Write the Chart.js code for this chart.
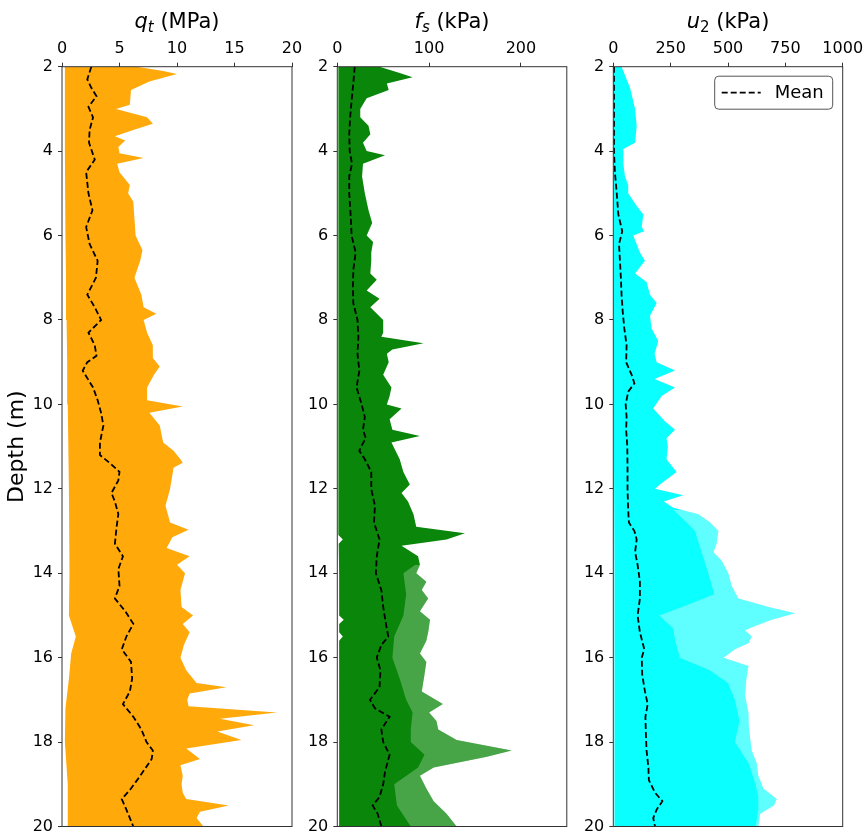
<!DOCTYPE html>
<html><head><meta charset="utf-8">
<script src="https://cdn.jsdelivr.net/npm/chart.js@4"></script>
<style>
html,body{margin:0;padding:0;background:#fff;}
#wrap{position:relative;width:866px;height:835px;overflow:hidden;background:#fff;}
canvas{position:absolute;top:0;}
</style></head><body>
<div id="wrap">
<canvas id="c1" width="310" height="835" style="left:0px"></canvas>
<canvas id="c2" width="285" height="835" style="left:300px"></canvas>
<canvas id="c3" width="291" height="835" style="left:575px"></canvas>
</div>
<script>
// ---------- tick labels ----------
const depthTicks = [2,4,6,8,10,12,14,16,18,20];
const qtTicks = [0,5,10,15,20];
const fsTicks = [0,100,200];
const u2Ticks = [0,250,500,750,1000];

// ---------- q_t (MPa) ----------
const qtMaxDepth = [2.0,2.1,2.17,2.35,2.55,2.9,3.0,3.2,3.35,3.5,3.65,3.75,3.9,4.05,4.16,4.3,4.5,4.8,5.0,5.2,5.6,6.0,6.35,6.6,7.0,7.4,7.7,7.85,8.0,8.3,8.6,8.9,9.1,9.3,9.6,9.9,10.05,10.2,10.5,10.9,11.1,11.3,11.38,11.5,12.0,12.4,12.8,12.97,13.15,13.4,13.6,13.8,14.0,14.4,14.8,15.0,15.2,15.4,15.7,16.0,16.3,16.6,16.7,16.85,17.0,17.15,17.3,17.45,17.6,17.75,17.95,18.15,18.4,18.55,18.8,19.0,19.2,19.35,19.5,19.65,19.8,20.0];
const qtMax      = [6.5,8.8,10.0,7.6,6.0,5.9,4.7,7.4,7.9,6.2,4.6,5.5,4.9,5.0,7.1,4.8,5.0,5.9,5.75,6.2,6.3,6.4,7.0,6.8,6.3,6.9,7.1,8.2,7.1,7.4,7.9,7.9,8.5,8.0,7.4,7.4,10.5,7.6,8.5,8.8,9.7,10.3,10.5,9.7,9.4,9.0,9.4,11.0,9.6,9.1,11.1,10.0,10.7,10.3,10.4,11.4,10.5,11.1,10.6,10.3,10.8,11.7,14.3,11.1,10.9,11.0,18.7,13.75,16.7,13.5,15.6,10.8,12.0,10.3,10.5,10.4,10.5,10.8,14.5,12.0,11.7,12.3];
const qtMinDepth = [2,4,6,7,8,9,10,12,14,15,15.5,15.9,16.5,17.2,18,19,20];
const qtMin      = [0.25,0.25,0.3,0.35,0.4,0.45,0.5,0.6,0.65,0.6,1.2,0.8,0.6,0.3,0.25,0.5,0.5];
const qtMeanDepth = [2.0,2.3,2.5,2.7,2.95,3.2,3.5,3.8,4.2,4.5,5.0,5.4,5.8,6.2,6.6,7.0,7.4,7.7,8.0,8.3,8.6,8.85,9.0,9.2,9.6,9.9,10.2,10.5,10.9,11.2,11.4,11.6,11.8,12.1,12.3,12.6,12.9,13.3,13.6,13.9,14.3,14.6,14.9,15.2,15.5,15.8,16.1,16.5,16.8,17.1,17.4,17.7,18.0,18.2,18.4,18.8,19.1,19.35,19.6,20.0];
const qtMean      = [2.55,2.2,2.55,3.0,2.3,2.7,2.4,2.35,2.85,2.1,2.3,2.65,2.1,2.4,3.1,2.95,2.2,2.85,3.4,2.3,2.85,3.0,2.2,1.8,2.7,3.1,3.4,3.6,3.3,3.3,4.2,5.0,4.9,4.3,4.6,4.9,4.75,4.6,5.3,4.9,5.0,4.6,5.5,6.2,5.6,5.2,6.0,6.1,5.9,5.3,6.2,6.9,7.35,7.9,7.8,6.8,6.0,5.2,5.6,6.2];

// ---------- f_s (kPa) ----------
const fsMaxDepth = [2.0,2.15,2.25,2.4,2.55,2.75,3.0,3.2,3.4,3.6,3.8,4.0,4.1,4.3,4.6,5.0,5.4,5.7,6.0,6.15,6.4,6.6,6.9,7.05,7.3,7.5,7.7,8.0,8.3,8.4,8.55,8.7,8.8,9.0,9.3,9.6,9.8,10.0,10.1,10.35,10.6,10.75,10.9,11.3,11.6,11.9,12.1,12.3,12.6,12.9,13.05,13.2,13.35,13.6,13.8,14.0,14.2,14.4,14.6,14.9,15.1,15.4,15.6,15.9,16.1,16.4,16.8,17.1,17.3,17.5,17.7,17.95,18.2,18.35,18.6,18.8,19.1,19.4,19.7,20.0];
const fsMax      = [46,68,82,54,56,32,25,25,34,36,28,32,52,28,27,30,34,38,32,39,37,37,36,43,32,46,36,50,50,48,94,60,54,56,50,59,57,54,70,57,60,90,59,68,72,79,70,77,83,86,139,119,70,88,90,86,97,92,99,90,101,99,97,90,97,95,92,115,100,108,110,130,190,163,105,90,97,105,119,130];
const fsMinDepth = [2,4,6,8,10,12,13.1,13.2,13.3,14,15.0,15.1,15.2,15.4,15.5,15.6,16,18,20];
const fsMin      = [1,1,1,1,1.5,1.5,1.5,6,1.5,2,2,7,2,2,6,2,2,2,2];
const fsHatchDepth = [13.8,14.0,14.5,15.0,15.5,16.0,16.5,17.0,17.3,17.7,18.0,18.3,18.6,19.0,19.5,20.0];
const fsHatch      = [85,72,75,72,62,60,68,75,82,80,80,95,88,62,65,80];
const fsMeanDepth = [2.0,2.4,2.8,3.2,3.6,4.0,4.3,4.6,5.0,5.5,6.0,6.4,6.8,7.2,7.6,8.0,8.4,8.8,9.2,9.6,10.0,10.3,10.6,10.8,11.0,11.1,11.3,11.6,12.0,12.4,12.8,13.2,13.6,14.0,14.4,14.8,15.2,15.5,15.7,16.0,16.3,16.7,17.0,17.2,17.4,17.7,18.0,18.3,18.7,19.0,19.3,19.5,19.7,20.0];
const fsMean      = [19,17.4,15.6,14,13,13.5,16,13,13,14.5,15.6,20,17.5,17,17.4,22,23,22,24,21,26.5,30,28,31,26,24,30,37,37,41,40,46,43,42,48,50,53,55.5,48,43,47,46,35.6,41,57,48,50,57,52,50,46,38.5,44,48];

// ---------- u_2 (kPa) ----------
const u2MaxDepth = [2.0,2.5,3.0,3.4,3.8,3.95,4.3,4.6,4.8,5.0,5.3,5.5,5.8,5.9,6.0,6.4,6.6,6.9,7.1,7.4,7.6,7.9,8.2,8.5,8.8,9.0,9.2,9.4,9.6,9.8,10.1,10.4,10.6,10.8,11.0,11.3,11.6,11.9,12.0,12.15,12.3,12.45,12.6,12.8,13.0,13.3,13.5,13.7,14.0,14.3,14.6,14.8,14.95,15.1,15.25,15.35,15.5,15.65,15.8,16.0,16.2,16.5,16.9,17.3,17.6,17.9,18.2,18.5,18.8,19.1,19.35,19.5,19.7,20.0];
const u2Max      = [36,73,95,102,95,44,44,51,65,65,102,131,124,135,87,116,138,95,145,160,189,160,167,196,180,189,269,180,269,211,174,225,269,232,238,232,276,203,182,305,220,262,371,422,458,450,436,472,501,516,545,676,792,690,618,574,603,590,530,480,589,580,574,589,590,596,603,625,632,654,712,700,640,632];
const u2MinDepth = [2,6,10,14,18,20];
const u2Min      = [0,1,2,4,6,7];
const u2HatchDepth = [12.5,12.8,13.0,13.5,14.0,14.5,14.8,15.0,15.3,15.6,16.0,16.3,16.6,17.0,17.5,18.0,18.5,19.0,19.3,19.6,20.0];
const u2Hatch      = [262,320,356,385,414,440,300,200,260,270,290,420,500,530,550,530,590,620,632,632,620];
const u2MeanDepth = [2.0,3.0,4.0,4.5,5.0,5.5,5.9,6.2,6.6,7.0,7.4,7.8,8.2,8.6,9.0,9.3,9.5,9.7,10.0,10.3,10.6,11.0,11.5,12.0,12.5,12.8,13.0,13.2,13.5,13.8,14.2,14.6,15.0,15.4,15.8,16.0,16.4,16.8,17.1,17.4,17.8,18.2,18.6,18.9,19.2,19.4,19.6,19.8,20.0];
const u2Mean      = [3,3,3,7,15,22,39,25,29,33,36,41,48,58,56,80,92,65,54,58,56,61,62,62,65,68,92,102,95,106,116,116,106,116,135,124,126,138,150,140,142,145,153,155,182,214,189,174,182];

const legendLabel = 'Mean';
const yTitle = 'Depth (m)';

Chart.defaults.font.family = "'DejaVu Sans', sans-serif";
Chart.defaults.color = '#000';

const FONT = "'DejaVu Sans', sans-serif";
const pts = (d, v) => d.map((y, i) => ({x: v[i], y: y}));

const decor = {
  id: 'decor',
  afterDraw(chart, args, opts) {
    const ctx = chart.ctx, a = chart.chartArea;
    ctx.save();
    // frame
    ctx.strokeStyle = '#333';
    ctx.lineWidth = 1;
    ctx.strokeRect(a.left, a.top, a.right - a.left, a.bottom - a.top);
    // title with subscript
    const parts = opts.title;
    const big = 21, small = 15;
    let total = 0;
    const fontOf = p => (p.it ? 'italic ' : '') + (p.sub ? small : big) + 'px ' + FONT;
    parts.forEach(p => { ctx.font = fontOf(p); total += ctx.measureText(p.t).width; });
    let x = (a.left + a.right) / 2 - total / 2;
    const base = 28;
    ctx.fillStyle = '#000';
    ctx.textBaseline = 'alphabetic';
    ctx.textAlign = 'left';
    parts.forEach(p => {
      ctx.font = fontOf(p);
      ctx.fillText(p.t, x, base + (p.sub ? 4 : 0));
      x += ctx.measureText(p.t).width;
    });
    // legend
    if (opts.legend) {
      const w = 118, h = 33;
      const lx = a.right - 10 - w, ly = a.top + 9.5;
      ctx.beginPath();
      ctx.roundRect(lx, ly, w, h, 4);
      ctx.fillStyle = 'rgba(255,255,255,0.9)';
      ctx.fill();
      ctx.strokeStyle = '#555';
      ctx.lineWidth = 1;
      ctx.stroke();
      ctx.beginPath();
      ctx.setLineDash([6, 3]);
      ctx.strokeStyle = '#000';
      ctx.lineWidth = 1.8;
      ctx.moveTo(lx + 7, ly + h / 2);
      ctx.lineTo(lx + 46, ly + h / 2);
      ctx.stroke();
      ctx.setLineDash([]);
      ctx.font = '18px ' + FONT;
      ctx.fillStyle = '#000';
      ctx.textBaseline = 'middle';
      ctx.fillText(legendLabel, lx + 60, ly + h / 2 + 1);
    }
    ctx.restore();
  }
};

function panel(id, c) {
  const ds = [];
  ds.push({label: legendLabel, data: pts(c.meanD, c.meanV), borderColor: '#000', borderWidth: 1.8,
           borderDash: [6, 3], pointRadius: 0, fill: false, tension: 0});
  const hasHatch = !!c.hatchD;
  const maxIdx = hasHatch ? 2 : 1;
  const minIdx = maxIdx + 1;
  if (hasHatch) {
    ds.push({label: 'hatch', data: pts(c.hatchD, c.hatchV), borderColor: 'rgba(0,0,0,0)', borderWidth: 0.01,
             backgroundColor: c.hatchColor, fill: maxIdx, pointRadius: 0, tension: 0});
  }
  ds.push({label: 'max', data: pts(c.maxD, c.maxV), borderColor: 'rgba(0,0,0,0)', borderWidth: 0.01,
           backgroundColor: c.color, fill: minIdx, pointRadius: 0, tension: 0});
  ds.push({label: 'min', data: pts(c.minD, c.minV), borderColor: 'rgba(0,0,0,0)', borderWidth: 0.01,
           fill: false, pointRadius: 0, tension: 0});

  const tickFont = {size: 16, family: FONT};
  new Chart(document.getElementById(id), {
    type: 'line',
    data: {datasets: ds},
    options: {
      indexAxis: 'y',
      responsive: false,
      animation: false,
      devicePixelRatio: 1,
      layout: {padding: {left: 0, right: c.padRight, top: 0, bottom: 8.5}},
      plugins: {legend: {display: false}, tooltip: {enabled: false},
                decor: {title: c.title, legend: !!c.legend}},
      scales: {
        x: {type: 'linear', position: 'top', min: 0, max: c.xMax,
            afterBuildTicks: s => { s.ticks = c.xTicks.map(v => ({value: v})); },
            afterFit: s => { s.height = 66.7; s.paddingLeft = 0; s.paddingRight = 0; },
            grid: {display: true, drawOnChartArea: false, drawTicks: true, tickLength: 4, tickColor: '#333', color: '#333'},
            border: {display: false},
            ticks: {padding: 4, font: tickFont, color: '#000', maxRotation: 0, autoSkip: false,
                    callback: v => String(v)}},
        y: {type: 'linear', reverse: true, min: 2, max: 20,
            afterBuildTicks: s => { s.ticks = depthTicks.map(v => ({value: v})); },
            afterFit: s => { s.width = c.yWidth; s.paddingTop = 0; s.paddingBottom = 0; },
            grid: {display: true, drawOnChartArea: false, drawTicks: true, tickLength: 4, tickColor: '#333', color: '#333'},
            border: {display: false},
            title: {display: !!c.yTitle, text: yTitle, font: {size: 22, family: FONT}, color: '#000', padding: {top: 4, bottom: 0}},
            ticks: {padding: 5, font: tickFont, color: '#000', autoSkip: false, callback: v => String(v)}}
      }
    },
    plugins: [decor]
  });
}

panel('c1', {
  maxD: qtMaxDepth, maxV: qtMax, minD: qtMinDepth, minV: qtMin, meanD: qtMeanDepth, meanV: qtMean,
  color: '#FFA90A', xMax: 20, xTicks: qtTicks, yWidth: 62, padRight: 18, yTitle: true,
  title: [{t: 'q', it: true}, {t: 't', it: true, sub: true}, {t: ' (MPa)'}]
});
panel('c2', {
  maxD: fsMaxDepth, maxV: fsMax, minD: fsMinDepth, minV: fsMin, meanD: fsMeanDepth, meanV: fsMean,
  hatchD: fsHatchDepth, hatchV: fsHatch, hatchColor: 'rgba(255,255,255,0.25)',
  color: '#0A860A', xMax: 250, xTicks: fsTicks, yWidth: 37.3, padRight: 18.2,
  title: [{t: 'f', it: true}, {t: 's', it: true, sub: true}, {t: ' (kPa)'}]
});
panel('c3', {
  maxD: u2MaxDepth, maxV: u2Max, minD: u2MinDepth, minV: u2Min, meanD: u2MeanDepth, meanV: u2Mean,
  hatchD: u2HatchDepth, hatchV: u2Hatch, hatchColor: 'rgba(255,255,255,0.35)',
  color: '#0AFFFF', xMax: 1000, xTicks: u2Ticks, yWidth: 38.3, padRight: 23.3, legend: true,
  title: [{t: 'u', it: true}, {t: '2', sub: true}, {t: ' (kPa)'}]
});
</script>
</body></html>
